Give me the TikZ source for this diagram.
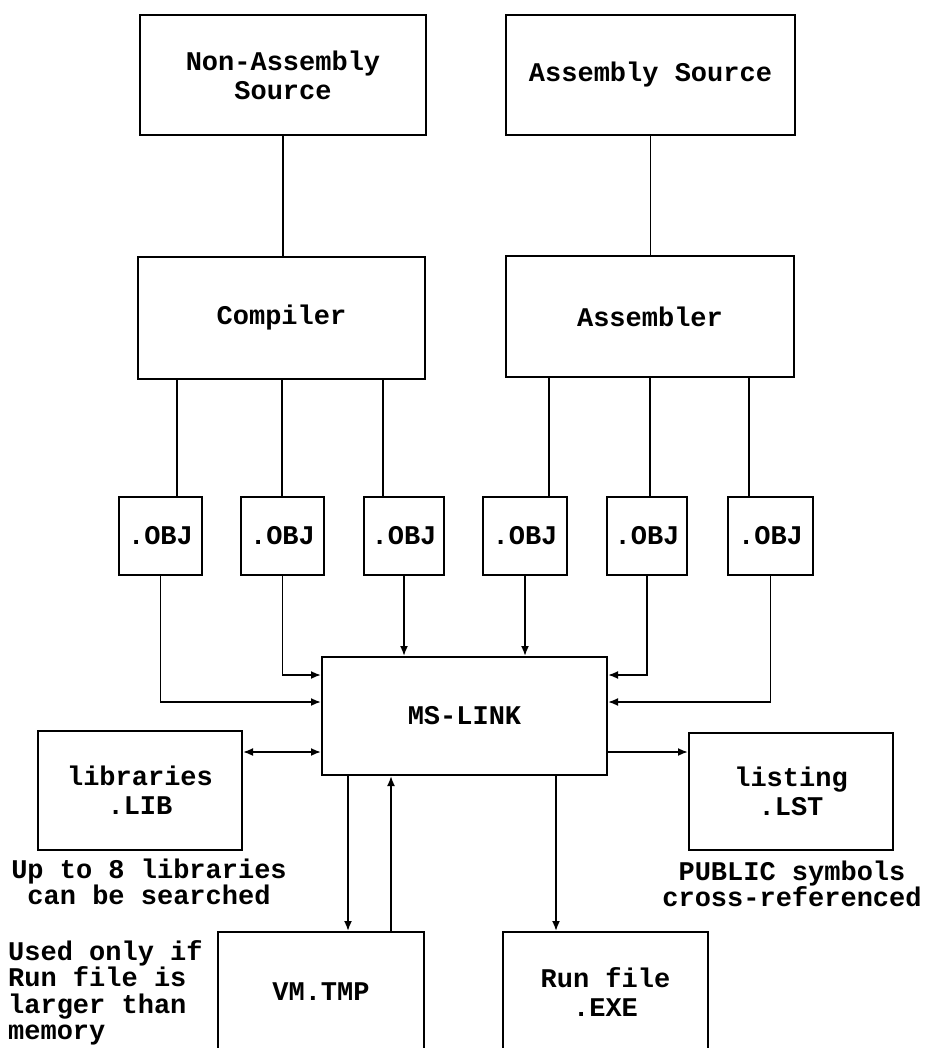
\documentclass[tikz,border=0pt]{standalone}
\usepackage{fontspec}
\setmonofont{Liberation Mono}
\usetikzlibrary{arrows.meta}
\tikzset{
  box/.style={draw, line width=2pt, inner sep=0pt, align=center,
    font=\ttfamily\bfseries\fontsize{27}{29}\selectfont},
  caption/.style={inner sep=0pt, font=\ttfamily\bfseries\fontsize{27}{26.5}\selectfont},
  conn/.style={line width=1.8pt},
  arr/.style={conn, -{Latex[length=10pt,width=8pt]}},
  dbl/.style={conn, {Latex[length=10pt,width=8pt]}-{Latex[length=10pt,width=8pt]}}
}
\begin{document}
\begin{tikzpicture}[x=1pt,y=-1pt]
\useasboundingbox (0,0) rectangle (925,1048);
\clip (0,0) rectangle (925,1048);
% top row
\node[box, minimum width=286pt, minimum height=120pt] (nas) at (283,75) {Non-Assembly\\Source};
\node[box, minimum width=289pt, minimum height=120pt] (as) at (650.5,75) {Assembly Source};
% processors
\node[box, minimum width=287pt, minimum height=121pt] (comp) at (281.5,318) {Compiler};
\node[box, minimum width=288pt, minimum height=121pt] (asm) at (650,316.5) {Assembler};
% objects
\node[box, minimum width=83pt, minimum height=78pt] (obj1) at (160.5,536) {.OBJ};
\node[box, minimum width=83pt, minimum height=78pt] (obj2) at (282.5,536) {.OBJ};
\node[box, minimum width=80pt, minimum height=78pt] (obj3) at (404,536) {.OBJ};
\node[box, minimum width=84pt, minimum height=78pt] (obj4) at (525,536) {.OBJ};
\node[box, minimum width=80pt, minimum height=78pt] (obj5) at (647,536) {.OBJ};
\node[box, minimum width=85pt, minimum height=78pt] (obj6) at (770.5,536) {.OBJ};
% linker
\node[box, minimum width=285pt, minimum height=118pt] (link) at (464.5,716) {MS-LINK};
\node[box, minimum width=204pt, minimum height=119pt] (lib) at (140,790.5) {libraries\\.LIB};
\node[box, minimum width=204pt, minimum height=117pt] (lst) at (791,791.5) {listing\\.LST};
% outputs (cut off at the bottom)
\node[box, minimum width=206pt, minimum height=120pt] (vm) at (321,992) {VM.TMP};
\node[box, minimum width=205pt, minimum height=120pt] (run) at (605.5,992) {Run file\\.EXE};
% captions
\node[caption, align=center] (libnote) at (149,882) {Up to 8 libraries\\can be searched};
\node[caption, align=center] (lstnote) at (792,884) {PUBLIC symbols\\cross-referenced};
\node[caption, align=left, anchor=north west] (vmnote) at (8,940) {Used only if\\Run file is\\larger than\\memory};
% connectors
\draw[conn] (nas.south) -- (nas.south |- comp.north);
\draw[conn] (as.south) -- (as.south |- asm.north);
\draw[conn] (comp.south -| 177,0) -- (obj1.north -| 177,0);
\draw[conn] (comp.south -| 282,0) -- (obj2.north -| 282,0);
\draw[conn] (comp.south -| 383,0) -- (obj3.north -| 383,0);
\draw[conn] (asm.south -| 549,0) -- (obj4.north -| 549,0);
\draw[conn] (asm.south -| 650,0) -- (obj5.north -| 650,0);
\draw[conn] (asm.south -| 749,0) -- (obj6.north -| 749,0);
\draw[arr] (obj1.south) |- (link.west |- 0,702);
\draw[arr] (obj2.south) |- (link.west |- 0,675);
\draw[arr] (obj3.south) -- (obj3.south |- link.north);
\draw[arr] (obj4.south) -- (obj4.south |- link.north);
\draw[arr] (obj5.south) |- (link.east |- 0,675);
\draw[arr] (obj6.south) |- (link.east |- 0,702);
\draw[dbl] (lib.east |- 0,752) -- (link.west |- 0,752);
\draw[arr] (link.east |- 0,752) -- (lst.west |- 0,752);
\draw[arr] (link.south -| 348,0) -- (vm.north -| 348,0);
\draw[arr] (vm.north -| 391,0) -- (link.south -| 391,0);
\draw[arr] (link.south -| 556,0) -- (run.north -| 556,0);
\end{tikzpicture}
\end{document}
